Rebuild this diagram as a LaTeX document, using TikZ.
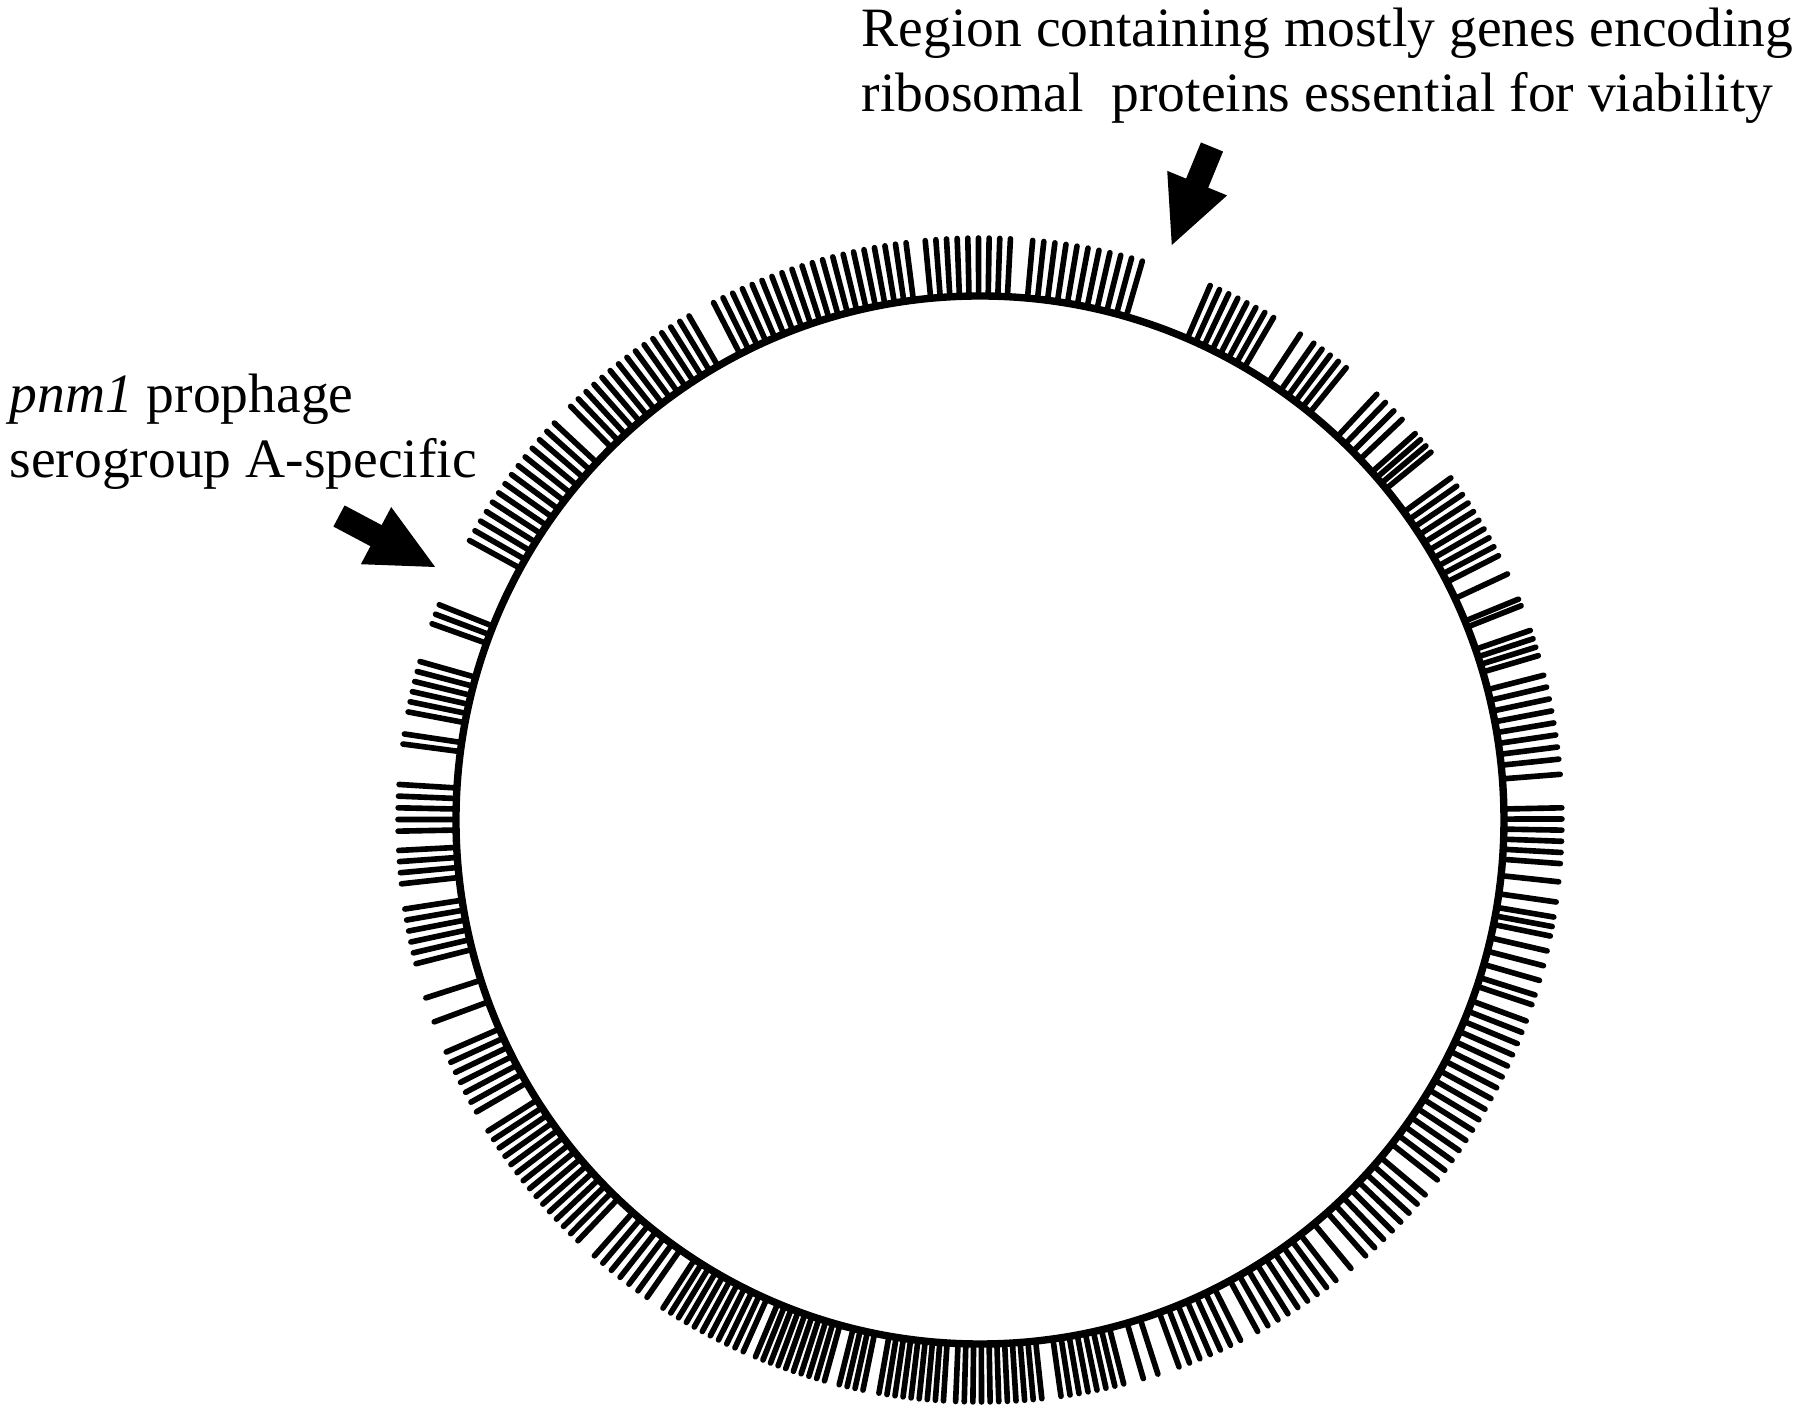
\documentclass[tikz,border=0pt]{standalone}
\usepackage{fontspec}
\setmainfont{Liberation Serif}
\usetikzlibrary{arrows.meta}

\begin{document}
\begin{tikzpicture}[
        tick/.style={line width=1.6pt, line cap=round},
        bigarrow/.style={line width=6.8pt, -{Triangle[length=6.9mm, width=5.9mm]}},
        annot/.style={anchor=north west, align=left, inner sep=0pt, font=\fontsize{15.8pt}{18.5pt}\selectfont}]
        \useasboundingbox (-9.80,-5.86) rectangle (8.20,8.20);

        \node(chrom) at (0,0) [circle, draw, line width=2.1pt, minimum size=10.48cm, inner sep=0pt] {};

        % start / step / count of each run of genes
        \foreach \s/\d/\n in {73.8/1.1/11, 87/1.05/9, 97.3/1.05/20, 120/1.05/15, 137/1.1/14,
                158.3/1/3, 164.2/1.02/6, 171.5/1/2, 176.5/1.15/5, 183/1.1/4, 188.8/1.1/6, 197.8/1/1, 200.3/1/1,
                203.5/1.1/7, 212.3/1/15, 228.5/1.1/7, 237/0.9/11, 247.3/0.8/10, 256/0.8/4, 260/0.8/9,
                267.6/0.85/11, 278/0.9/8, 286.3/1.5/2, 290/1.1/7, 298.5/1.15/9, 309.6/1/1, 311.5/1.2/8,
                321.8/1.2/16, 341.5/1/2, 344/1.5/3, 348.5/0.95/3, 351.9/2/2, 355.7/1.1/6, 4.5/1/1,
                6/1.2/8, 16.4/0.87/4, 21.6/0.7/2, 25/1/1, 27/1/10, 39.2/0.8/4, 43.5/1.17/4, 51/1/5,
                56.6/1/1, 59.7/1/8}
            \foreach \i in {1,...,\n} {
                \pgfmathsetmacro\a{\s+(\i-1)*\d}
                \draw [tick] (\a:5.24) -- (\a:5.82);
            }

        \node(ribo) at (-1.19,8.13) [annot] {Region containing mostly genes encoding\\ribosomal\ \ proteins essential for viability};
        \node(phage) at (-9.71,4.47) [annot] {\textit{pnm1} prophage\\serogroup A-specific};

        \coordinate (ribotail) at (2.32,6.73);
        \coordinate (ribogap) at (1.91,5.73);
        \coordinate (phagetail) at (-6.41,3.04);
        \coordinate (phagegap) at (-5.43,2.52);

        \draw [bigarrow] (ribotail) -- (ribogap);
        \draw [bigarrow] (phagetail) -- (phagegap);
    \end{tikzpicture}
\end{document}
